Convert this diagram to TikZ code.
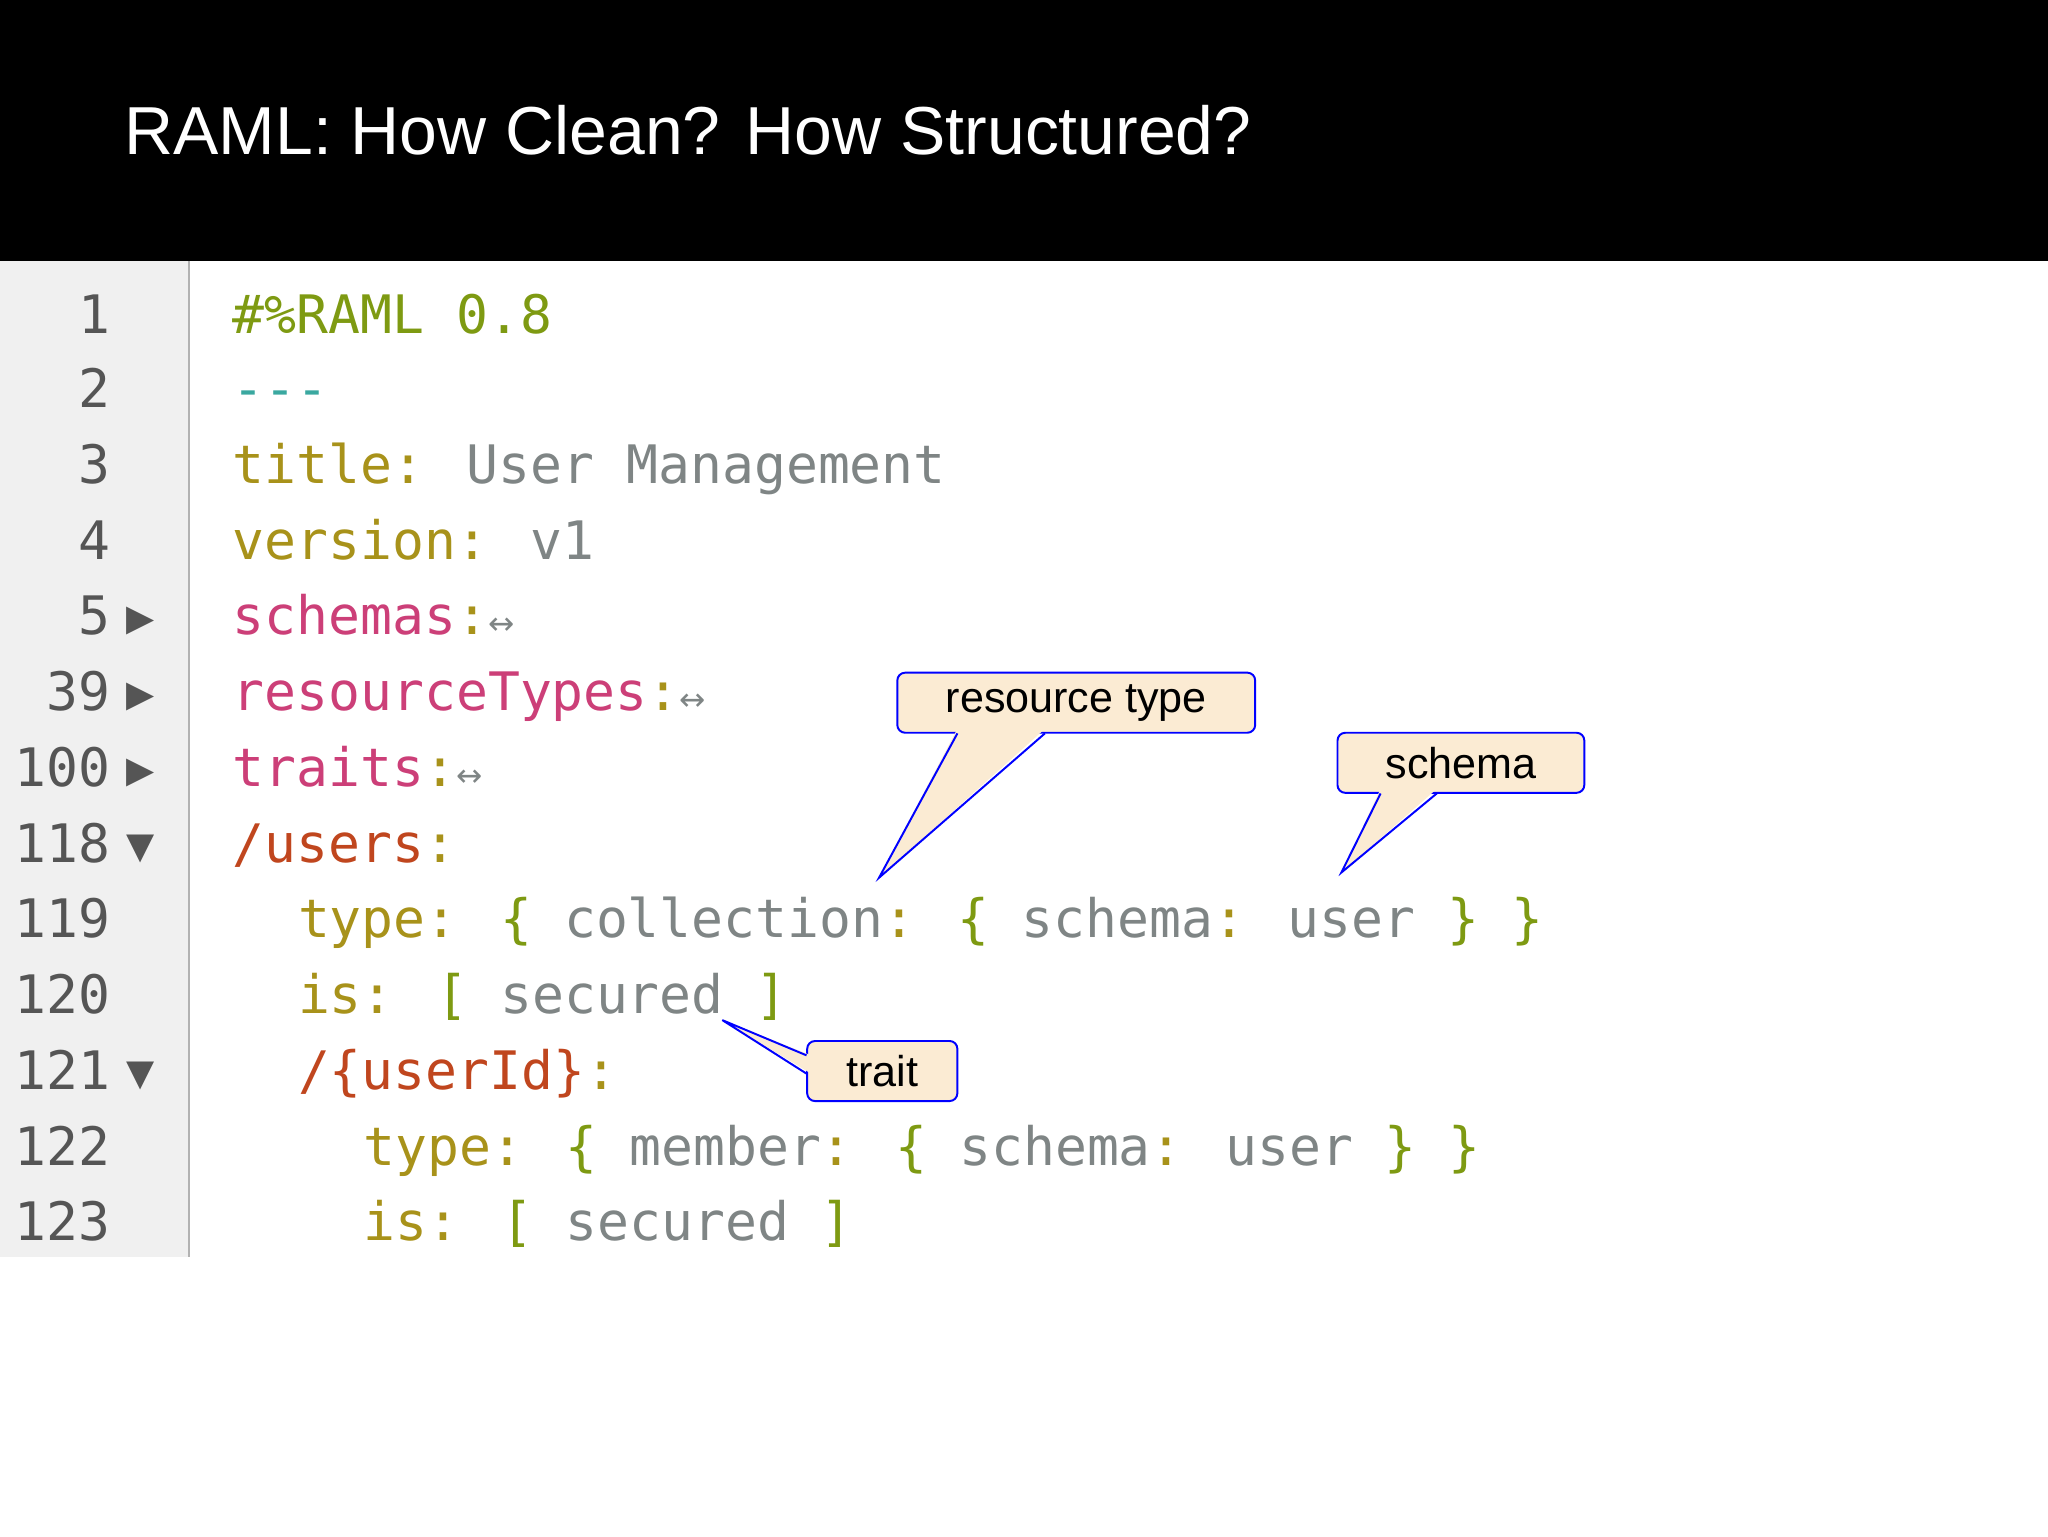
\documentclass[tikz,border=0pt]{standalone}
\usepackage{fontspec}
\setmainfont{Liberation Sans}
\newfontfamily\codefont{DejaVu Sans Mono}
\newfontfamily\symfont{DejaVu Sans}
\definecolor{cgreen}{HTML}{7E9A12}
\definecolor{ckey}{HTML}{A8921A}
\definecolor{cval}{HTML}{7F8585}
\definecolor{cpink}{HTML}{CC3F78}
\definecolor{corange}{HTML}{C0461E}
\definecolor{cteal}{HTML}{3AA8A0}
\definecolor{cnum}{HTML}{555555}
\definecolor{gut}{HTML}{F0F0F0}
\definecolor{callfill}{HTML}{FBEBD3}
\tikzset{
  code/.style={anchor=base west,inner sep=0,font=\codefont\fontsize{40.6}{45}\selectfont},
  lnum/.style={anchor=base east,inner sep=0,text=cnum,font=\codefont\fontsize{40.6}{45}\selectfont},
  fold/.style={anchor=base west,inner sep=0,text=cnum,font=\symfont\fontsize{28}{30}\selectfont},
  callout/.style={draw=blue,fill=callfill,line width=1.5pt,rounded corners=6pt,inner sep=0,font=\fontsize{33}{36}\selectfont},
}
\newcommand{\fo}{{\symfont\fontsize{24}{26}\selectfont\textcolor{cval}{↔}}}
\begin{document}
\begin{tikzpicture}[x=1pt,y=-1pt]
\useasboundingbox (0,0) rectangle (1568,1176);
\fill[white] (0,0) rectangle (1568,1176);
\fill[black] (0,0) rectangle (1568,200);
\node[anchor=base west,inner sep=0,text=white,font=\fontsize{52}{56}\selectfont] (title) at (95,118) {RAML: How Clean? How Structured?};
\fill[gut] (0,200) rectangle (145,962);
\draw[gray!60,line width=1.5pt] (145,200) -- (145,962);
% line numbers
\foreach \n/\y in {1/240,2/297,3/355,4/413,5/471,39/529,100/587,118/645,119/703,120/761,121/819,122/877,123/935}
  \node[lnum] (n\n) at (85,\y+15) {\n};
\foreach \n/\y in {5/471,39/529,100/587}
  \node[fold] (f\n) at (97,\y+12) {▶};
\foreach \n/\y in {118/645,121/819}
  \node[fold] (f\n) at (97,\y+12) {▼};
% code
\node[code] (c1) at (178,255) {\textcolor{cgreen}{\#\%RAML 0.8}};
\node[code] (c2) at (178,312) {\textcolor{cteal}{---}};
\node[code] (c3) at (178,370) {\textcolor{ckey}{title:} \textcolor{cval}{User Management}};
\node[code] (c4) at (178,428) {\textcolor{ckey}{version:} \textcolor{cval}{v1}};
\node[code] (c5) at (178,486) {\textcolor{cpink}{schemas}\textcolor{ckey}{:}\fo};
\node[code] (c6) at (178,544) {\textcolor{cpink}{resourceTypes}\textcolor{ckey}{:}\fo};
\node[code] (c7) at (178,602) {\textcolor{cpink}{traits}\textcolor{ckey}{:}\fo};
\node[code] (c8) at (178,660) {\textcolor{corange}{/users}\textcolor{ckey}{:}};
\node[code] (c9) at (228,718) {\textcolor{ckey}{type:} \textcolor{cgreen}{\{} \textcolor{cval}{collection}\textcolor{ckey}{:} \textcolor{cgreen}{\{} \textcolor{cval}{schema}\textcolor{ckey}{:} \textcolor{cval}{user} \textcolor{cgreen}{\} \}}};
\node[code] (c10) at (228,776) {\textcolor{ckey}{is:} \textcolor{cgreen}{[} \textcolor{cval}{secured} \textcolor{cgreen}{]}};
\node[code] (c11) at (228,834) {\textcolor{corange}{/\{userId\}}\textcolor{ckey}{:}};
\node[code] (c12) at (278,892) {\textcolor{ckey}{type:} \textcolor{cgreen}{\{} \textcolor{cval}{member}\textcolor{ckey}{:} \textcolor{cgreen}{\{} \textcolor{cval}{schema}\textcolor{ckey}{:} \textcolor{cval}{user} \textcolor{cgreen}{\} \}}};
\node[code] (c13) at (278,950) {\textcolor{ckey}{is:} \textcolor{cgreen}{[} \textcolor{cval}{secured} \textcolor{cgreen}{]}};
% callouts
\node[callout,minimum width=274,minimum height=46] (rt) at (824,538) {resource type};
\coordinate (rtip) at (673,672);
\fill[callfill] (733,558) -- (rtip) -- (800,558) -- cycle;
\draw[blue,line width=1.5pt,line join=miter] (733,561.5) -- (rtip) -- (800,561.5);
\node[callout,minimum width=189,minimum height=46] (sc) at (1118.5,584) {schema};
\coordinate (stip) at (1027,668);
\fill[callfill] (1057,604) -- (stip) -- (1100,604) -- cycle;
\draw[blue,line width=1.5pt] (1057,607.5) -- (stip) -- (1100,607.5);
\node[callout,minimum width=115,minimum height=46] (tr) at (675.5,820) {trait};
\coordinate (ttip) at (553,781);
\fill[callfill] (621,808) -- (ttip) -- (621,822) -- cycle;
\draw[blue,line width=1.5pt] (617.5,808) -- (ttip) -- (617.5,822);
\end{tikzpicture}
\end{document}
